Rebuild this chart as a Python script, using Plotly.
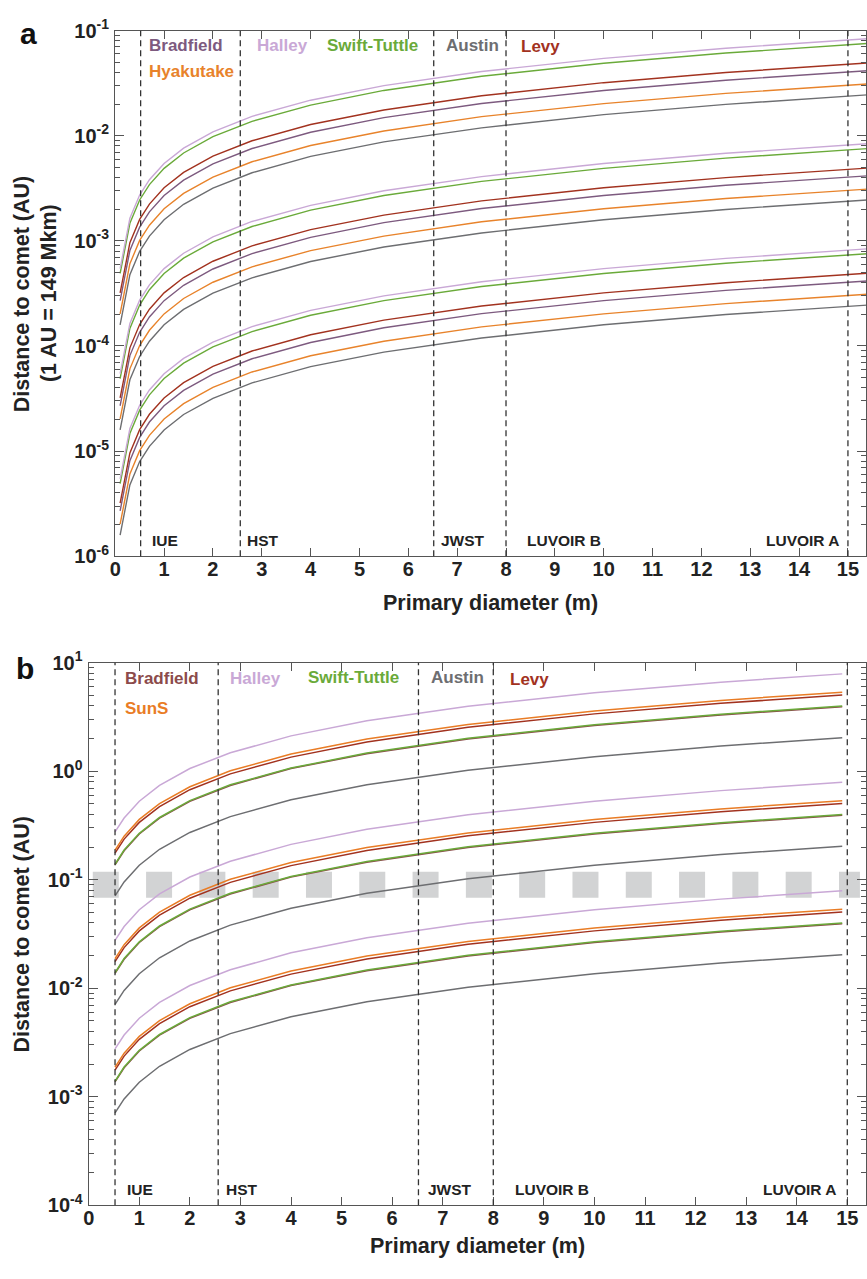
import plotly.graph_objects as go

W, H = 867, 1279

# ------------------------------------------------------------------ data
# Panel a : distance (AU) vs primary diameter (m); top family of curves,
# the two lower families sit one and two decades lower.
D_A = [0.1, 0.3, 0.5, 0.7, 1.0, 1.4, 2.0, 2.8, 4.0, 5.5, 7.5, 10.0, 12.5, 15.4]
A_BRADFIELD = [2.7e-4, 8.1e-4, 1.35e-3, 1.89e-3, 2.7e-3, 3.78e-3, 5.4e-3, 7.56e-3, 1.08e-2, 1.49e-2, 2.03e-2, 2.7e-2, 3.38e-2, 4.16e-2]
A_HYAKUTAKE = [2.02e-4, 6.06e-4, 1.01e-3, 1.41e-3, 2.02e-3, 2.83e-3, 4.04e-3, 5.66e-3, 8.08e-3, 1.11e-2, 1.52e-2, 2.02e-2, 2.53e-2, 3.11e-2]
A_HALLEY = [5.45e-4, 1.64e-3, 2.73e-3, 3.82e-3, 5.45e-3, 7.63e-3, 1.09e-2, 1.53e-2, 2.18e-2, 3.0e-2, 4.09e-2, 5.45e-2, 6.81e-2, 8.39e-2]
A_SWIFT = [4.9e-4, 1.47e-3, 2.45e-3, 3.43e-3, 4.9e-3, 6.86e-3, 9.8e-3, 1.37e-2, 1.96e-2, 2.7e-2, 3.68e-2, 4.9e-2, 6.13e-2, 7.55e-2]
A_AUSTIN = [1.59e-4, 4.77e-4, 7.95e-4, 1.11e-3, 1.59e-3, 2.23e-3, 3.18e-3, 4.45e-3, 6.36e-3, 8.75e-3, 1.19e-2, 1.59e-2, 1.99e-2, 2.45e-2]
A_LEVY = [3.2e-4, 9.6e-4, 1.6e-3, 2.24e-3, 3.2e-3, 4.48e-3, 6.4e-3, 8.96e-3, 1.28e-2, 1.76e-2, 2.4e-2, 3.2e-2, 4.0e-2, 4.93e-2]
A_GROUP_SCALE = [1.0, 0.1, 0.01]

# Panel b
D_B = [0.52, 0.7, 1.0, 1.4, 2.0, 2.8, 4.0, 5.5, 7.5, 10.0, 12.5, 14.9]
B_HALLEY = [0.276, 0.371, 0.53, 0.742, 1.06, 1.48, 2.12, 2.92, 3.98, 5.3, 6.63, 7.9]
B_AUSTIN = [0.0710, 0.0956, 0.136, 0.191, 0.273, 0.382, 0.546, 0.751, 1.02, 1.36, 1.71, 2.04]
B_BRADFIELD = [0.137, 0.185, 0.264, 0.37, 0.528, 0.739, 1.06, 1.45, 1.98, 2.64, 3.3, 3.93]
B_SWIFT = [0.139, 0.188, 0.268, 0.375, 0.536, 0.75, 1.07, 1.47, 2.01, 2.68, 3.35, 3.99]
B_LEVY = [0.176, 0.237, 0.338, 0.473, 0.676, 0.946, 1.35, 1.86, 2.54, 3.38, 4.23, 5.04]
B_SUNS = [0.187, 0.252, 0.36, 0.504, 0.72, 1.01, 1.44, 1.98, 2.7, 3.6, 4.5, 5.36]
B_GROUP_SCALE = [1.0, 0.1, 0.01]

# Telescopes (primary diameter, m)
INSTR_NAMES = ["IUE", "HST", "JWST", "LUVOIR B", "LUVOIR A"]
INSTR_D = [0.52, 2.56, 6.52, 8.0, 15.0]

# grey threshold band in panel b
BAND_X = [0.08, 15.25]
BAND_Y = [0.09, 0.09]

X_TICKS = list(range(0, 16))
A_DECADES = [-6, -5, -4, -3, -2, -1]
B_DECADES = [-4, -3, -2, -1, 0, 1]

# ------------------------------------------------------------------ styles
FONT = "Liberation Sans, Arial, Helvetica, sans-serif"
C_BRAD_A = "#7d5a7f"
C_BRAD_B = "#8c4b4b"
C_HYAK = "#e8832b"
C_SUNS = "#e97c25"
C_HALLEY = "#c9a8d6"
C_SWIFT = "#6aaa3a"
C_AUSTIN = "#6d6e71"
C_LEVY = "#a2321f"
AXC = "#555555"


def xp(px):
    return px / W


def yp(py):
    return 1 - py / H


fig = go.Figure()

series_a = [("Austin", A_AUSTIN, C_AUSTIN), ("Hyakutake", A_HYAKUTAKE, C_HYAK),
            ("Bradfield", A_BRADFIELD, C_BRAD_A), ("Levy", A_LEVY, C_LEVY),
            ("Swift-Tuttle", A_SWIFT, C_SWIFT), ("Halley", A_HALLEY, C_HALLEY)]
for s in A_GROUP_SCALE:
    for name, vals, col in series_a:
        fig.add_trace(go.Scatter(x=D_A, y=[v * s for v in vals], mode="lines", name=name,
                                 line=dict(color=col, width=1.4), xaxis="x", yaxis="y",
                                 showlegend=False, hoverinfo="skip"))

fig.add_trace(go.Scatter(x=BAND_X, y=BAND_Y, mode="lines",
                         line=dict(color="#d2d3d4", width=26, dash="26px,27.3px"),
                         xaxis="x2", yaxis="y2", showlegend=False, hoverinfo="skip"))

series_b = [("Austin", B_AUSTIN, C_AUSTIN), ("Halley", B_HALLEY, C_HALLEY),
            ("Bradfield", B_BRADFIELD, C_BRAD_B), ("Swift-Tuttle", B_SWIFT, C_SWIFT),
            ("Levy", B_LEVY, C_LEVY), ("SunS", B_SUNS, C_SUNS)]
for s in B_GROUP_SCALE:
    for name, vals, col in series_b:
        fig.add_trace(go.Scatter(x=D_B, y=[v * s for v in vals], mode="lines", name=name,
                                 line=dict(color=col, width=1.5), xaxis="x2", yaxis="y2",
                                 showlegend=False, hoverinfo="skip"))

# telescope dashed lines
for d in INSTR_D:
    for xr, yr in (("x", "y domain"), ("x2", "y2 domain")):
        fig.add_shape(type="line", xref=xr, yref=yr, x0=d, x1=d, y0=0, y1=1,
                      line=dict(color="#333333", width=1.3, dash="6px,4px"), layer="above")

annotations = []


def label(text, x, y, color, size, xanchor="left", angle=0, yanchor="middle"):
    annotations.append(dict(text=text, x=xp(x), y=yp(y), xref="paper", yref="paper",
                            xanchor=xanchor, yanchor=yanchor, showarrow=False, textangle=angle,
                            font=dict(family=FONT, size=size, color=color, weight="bold")))


# comet labels panel a
label("Bradfield", 142, 32, C_BRAD_A, 17)
label("Hyakutake", 142, 58.5, C_HYAK, 17)
label("Halley", 251, 32, C_HALLEY, 17)
label("Swift-Tuttle", 321, 32, C_SWIFT, 17)
label("Austin", 441, 32, C_AUSTIN, 17)
label("Levy", 517, 33, C_LEVY, 17)
# comet labels panel b
label("Bradfield", 118, 678, C_BRAD_B, 17)
label("SunS", 118, 708, C_SUNS, 17)
label("Halley", 224, 678, C_HALLEY, 17)
label("Swift-Tuttle", 302, 677, C_SWIFT, 17)
label("Austin", 426, 677, C_AUSTIN, 17)
label("Levy", 506, 679, C_LEVY, 17)

# instrument labels
for name, xa, xb in (("IUE", 145, 120), ("HST", 241, 220), ("JWST", 436, 423),
                     ("LUVOIR B", 523, 511)):
    label(name, xa, 536.5, "#222222", 15.5)
    label(name, xb, 1198.5, "#222222", 15.5)
label("LUVOIR A", 841, 536.5, "#222222", 15.5, xanchor="right")
label("LUVOIR A", 838, 1198.5, "#222222", 15.5, xanchor="right")

# panel letters
label("a", 12, 20, "#111111", 30)
label("b", 8, 668, "#111111", 30)

# axis titles
label("Distance to comet (AU)", 17, 285, "#222222", 21.5, xanchor="center", angle=-90)
label("(1 AU = 149 Mkm)", 44, 285, "#222222", 21.5, xanchor="center", angle=-90)
label("Distance to comet (AU)", 16, 938, "#222222", 21.5, xanchor="center", angle=-90)
label("Primary diameter (m)", 488, 601, "#222222", 21.5, xanchor="center")
label("Primary diameter (m)", 474.5, 1257, "#222222", 21.5, xanchor="center")

tickfont = dict(family=FONT, size=20, color="#222222", weight="bold")


def xaxis(domain, anchor):
    return dict(domain=domain, anchor=anchor, range=[0, 15.37], tickmode="array",
                tickvals=X_TICKS, ticktext=[str(t) for t in X_TICKS],
                ticks="inside", ticklen=8, tickwidth=1.3, tickcolor=AXC,
                showline=True, linecolor=AXC, linewidth=1.4, mirror="allticks",
                showgrid=False, zeroline=False, tickfont=tickfont, ticklabelstandoff=-5)


def yaxis(domain, anchor, decades):
    minors = [m * 10 ** d for d in decades[:-1] for m in range(2, 10)]
    return dict(domain=domain, anchor=anchor, type="log",
                range=[decades[0], decades[-1]], tickmode="array",
                tickvals=[10 ** d for d in decades],
                ticktext=["10<sup>%d</sup>" % d for d in decades],
                ticks="inside", ticklen=9, tickwidth=1.3, tickcolor=AXC,
                minor=dict(ticks="inside", ticklen=5, tickwidth=1.1, tickcolor=AXC,
                           tickmode="array", tickvals=minors, showgrid=False),
                showline=True, linecolor=AXC, linewidth=1.4, mirror="allticks",
                showgrid=False, zeroline=False, tickfont=tickfont, ticklabelstandoff=1)


fig.update_layout(
    width=W, height=H, margin=dict(l=0, r=0, t=0, b=0),
    paper_bgcolor="white", plot_bgcolor="white",
    xaxis=xaxis([xp(110), xp(866)], "y"),
    yaxis=yaxis([yp(553), yp(17)], "x", A_DECADES),
    xaxis2=xaxis([xp(83.3), xp(866)], "y2"),
    yaxis2=yaxis([yp(1215), yp(661.7)], "x2", B_DECADES),
    annotations=annotations, showlegend=False,
)

fig.write_html(
    "out.html",
    config={"displayModeBar": False},
    post_script="var gd=document.getElementById('{plot_id}');"
                "gd.style.position='fixed';gd.style.top='0px';gd.style.left='0px';"
                "document.body.style.margin='0px';"
                "document.documentElement.style.overflow='hidden';",
)
